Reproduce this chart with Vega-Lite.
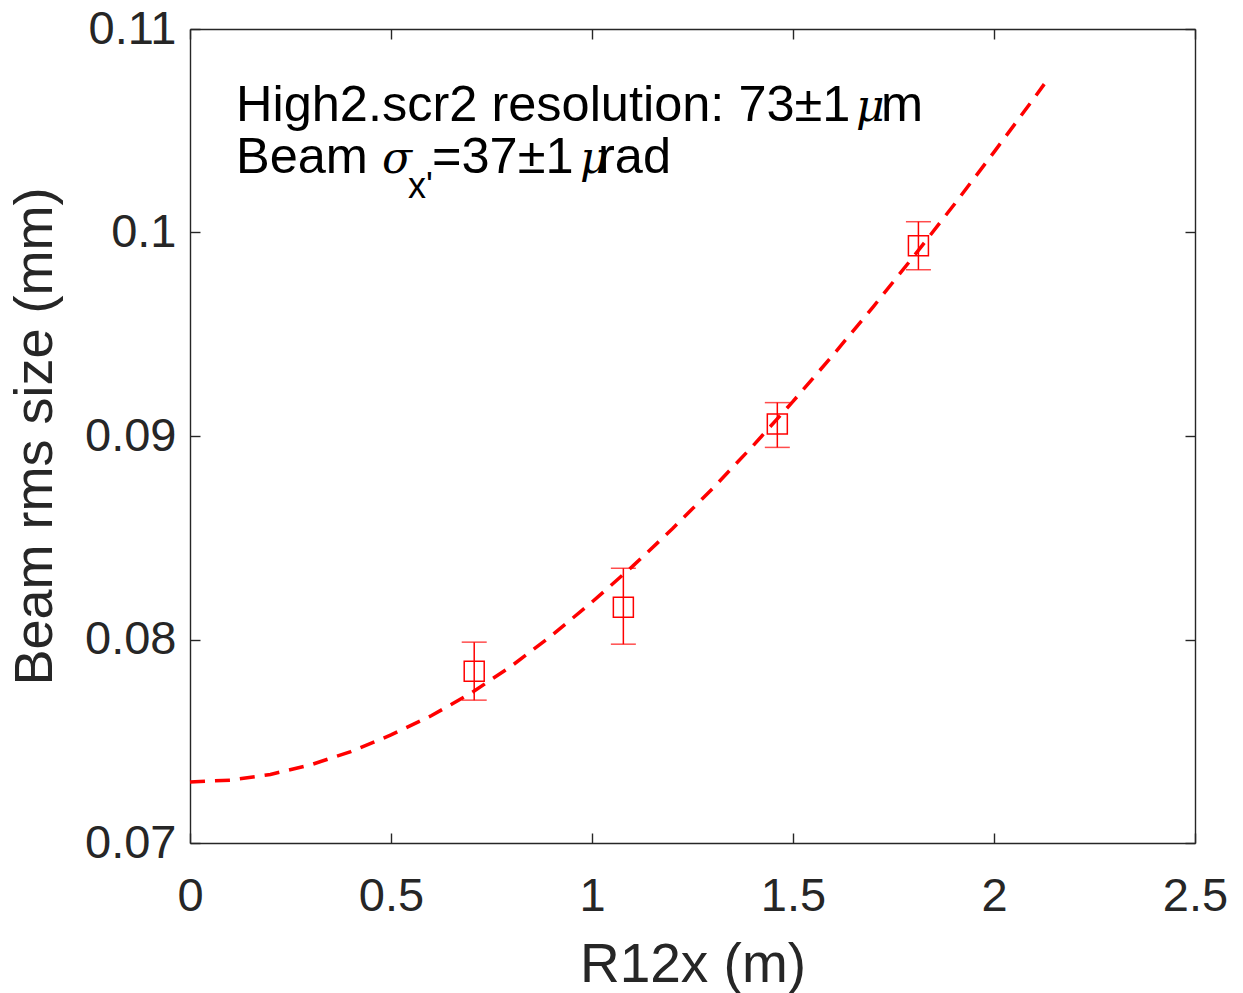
{
  "$schema": "https://vega.github.io/schema/vega-lite/v6.json",
  "width": 1005,
  "height": 814,
  "autosize": {"type": "none"},
  "padding": {"left": 190, "top": 29, "right": 48, "bottom": 150},
  "background": "#ffffff",
  "view": {"stroke": null},
  "datasets": {
    "fit": [
      {"x": 0.0, "y": 0.0730},
      {"x": 0.1, "y": 0.07309},
      {"x": 0.2, "y": 0.07337},
      {"x": 0.3, "y": 0.07384},
      {"x": 0.4, "y": 0.07449},
      {"x": 0.5, "y": 0.07531},
      {"x": 0.6, "y": 0.07625},
      {"x": 0.7, "y": 0.07738},
      {"x": 0.8, "y": 0.07870},
      {"x": 0.9, "y": 0.08020},
      {"x": 1.0, "y": 0.08184},
      {"x": 1.1, "y": 0.08358},
      {"x": 1.2, "y": 0.08544},
      {"x": 1.3, "y": 0.08742},
      {"x": 1.4, "y": 0.08951},
      {"x": 1.5, "y": 0.09170},
      {"x": 1.6, "y": 0.09399},
      {"x": 1.7, "y": 0.09636},
      {"x": 1.8, "y": 0.09882},
      {"x": 1.9, "y": 0.10135},
      {"x": 2.0, "y": 0.10395},
      {"x": 2.1, "y": 0.10661},
      {"x": 2.125, "y": 0.10729}
    ],
    "meas": [
      {"x": 0.707, "y": 0.07844, "lo": 0.07702, "hi": 0.07987},
      {"x": 1.078, "y": 0.08158, "lo": 0.07977, "hi": 0.08350},
      {"x": 1.461, "y": 0.09059, "lo": 0.08944, "hi": 0.09164},
      {"x": 1.812, "y": 0.09935, "lo": 0.09817, "hi": 0.10053}
    ],
    "plain": [
      {"x": 0.1144, "y": 0.10548, "t": "High2.scr2 resolution: 73±1"},
      {"x": 1.719, "y": 0.10548, "t": "m"},
      {"x": 0.1144, "y": 0.10293, "t": "Beam"},
      {"x": 0.602, "y": 0.10293, "t": "=37±1"},
      {"x": 1.015, "y": 0.10293, "t": "rad"}
    ],
    "greek": [
      {"x": 1.657, "y": 0.10548, "t": "μ"},
      {"x": 0.4776, "y": 0.10293, "t": "σ"},
      {"x": 0.970, "y": 0.10293, "t": "μ"}
    ],
    "sub": [
      {"x": 0.5423, "y": 0.10170, "t": "x'"}
    ]
  },
  "resolve": {"axis": {"x": "independent", "y": "independent"}},
  "layer": [
    {
      "data": {"name": "fit"},
      "mark": {"type": "line", "color": "#ff0000", "strokeWidth": 3.5, "strokeDash": [15, 10]},
      "encoding": {
        "x": {
          "field": "x", "type": "quantitative",
          "scale": {"domain": [0, 2.5], "nice": false, "zero": false},
          "axis": {
            "orient": "bottom",
            "title": "R12x (m)",
            "values": [0, 0.5, 1, 1.5, 2, 2.5],
            "format": "~g",
            "titleX": 502.5, "titleY": 138, "titleAlign": "center", "titleBaseline": "alphabetic"
          }
        },
        "y": {
          "field": "y", "type": "quantitative",
          "scale": {"domain": [0.07, 0.11], "nice": false, "zero": false},
          "axis": {
            "orient": "left",
            "title": "Beam rms size (mm)",
            "values": [0.07, 0.08, 0.09, 0.1, 0.11],
            "format": "~g",
            "titleFontSize": 54,
            "titleX": -139, "titleY": 407, "titleAlign": "center", "titleBaseline": "alphabetic"
          }
        }
      }
    },
    {
      "data": {"name": "meas"},
      "mark": {"type": "errorbar", "color": "#ff0000", "thickness": 1.5, "ticks": {"size": 25, "color": "#ff0000", "thickness": 1.5}},
      "encoding": {
        "x": {"field": "x", "type": "quantitative", "axis": null},
        "y": {"field": "lo", "type": "quantitative", "axis": null},
        "y2": {"field": "hi"}
      }
    },
    {
      "data": {"name": "meas"},
      "mark": {"type": "point", "shape": "square", "size": 400, "filled": false, "color": "#ff0000", "strokeWidth": 1.5, "opacity": 1},
      "encoding": {
        "x": {
          "field": "x", "type": "quantitative",
          "axis": {"orient": "top", "title": null, "labels": false, "values": [0, 0.5, 1, 1.5, 2, 2.5]}
        },
        "y": {
          "field": "y", "type": "quantitative",
          "axis": {"orient": "right", "title": null, "labels": false, "values": [0.07, 0.08, 0.09, 0.1, 0.11]}
        }
      }
    },
    {
      "data": {"name": "plain"},
      "mark": {"type": "text", "align": "left", "baseline": "alphabetic", "font": "Liberation Sans", "fontSize": 50.5, "color": "#000000"},
      "encoding": {
        "x": {"field": "x", "type": "quantitative", "axis": null},
        "y": {"field": "y", "type": "quantitative", "axis": null},
        "text": {"field": "t"}
      }
    },
    {
      "data": {"name": "greek"},
      "mark": {"type": "text", "align": "left", "baseline": "alphabetic", "font": "DejaVu Serif", "fontStyle": "italic", "fontSize": 44, "color": "#000000"},
      "encoding": {
        "x": {"field": "x", "type": "quantitative", "axis": null},
        "y": {"field": "y", "type": "quantitative", "axis": null},
        "text": {"field": "t"}
      }
    },
    {
      "data": {"name": "sub"},
      "mark": {"type": "text", "align": "left", "baseline": "alphabetic", "font": "Liberation Sans", "fontSize": 36, "color": "#000000"},
      "encoding": {
        "x": {"field": "x", "type": "quantitative", "axis": null},
        "y": {"field": "y", "type": "quantitative", "axis": null},
        "text": {"field": "t"}
      }
    }
  ],
  "config": {
    "font": "Liberation Sans",
    "axis": {
      "grid": false,
      "domainColor": "#262626",
      "domainWidth": 1.4,
      "tickColor": "#262626",
      "tickWidth": 1.4,
      "tickSize": -10,
      "labelFont": "Liberation Sans",
      "labelFontSize": 47,
      "labelColor": "#262626",
      "titleFont": "Liberation Sans",
      "titleFontSize": 55,
      "titleFontWeight": "normal",
      "titleColor": "#262626",
      "labelFlush": false,
      "labelOverlap": false
    },
    "axisBottom": {"labelPadding": 40},
    "axisLeft": {"labelPadding": 24}
  }
}
